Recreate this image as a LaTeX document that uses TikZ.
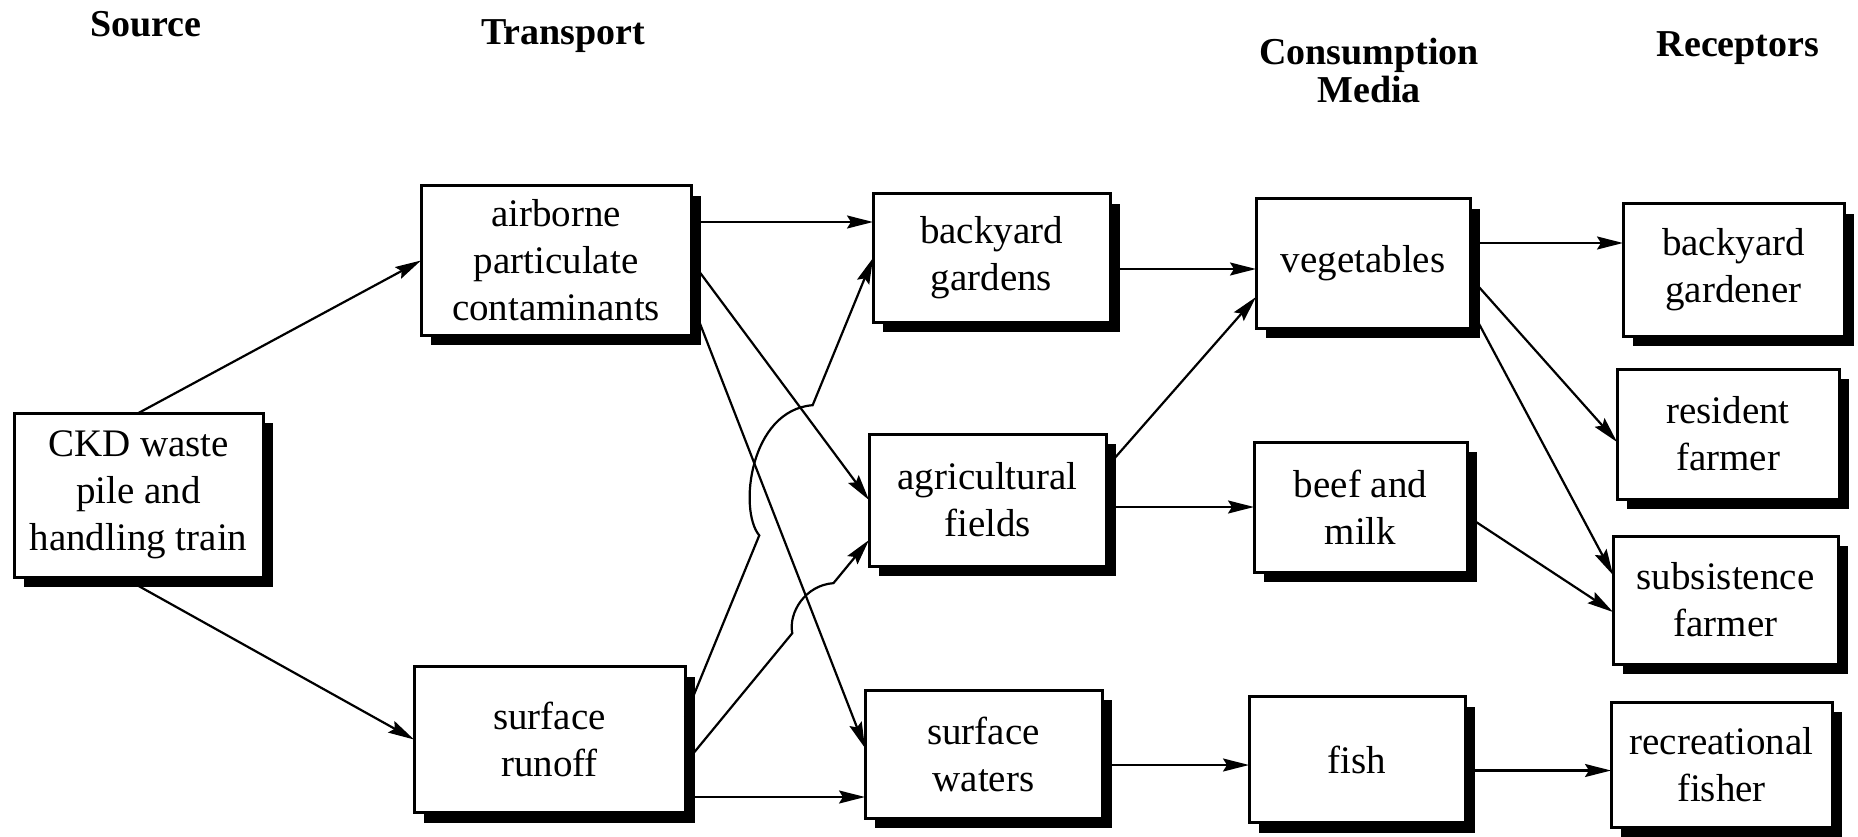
\documentclass[tikz,border=0pt]{standalone}
\usepackage{fontspec}
\setmainfont{Liberation Serif}
\usetikzlibrary{arrows.meta,calc,shadows}
\begin{document}
\begin{tikzpicture}[x=1pt,y=-1pt,
  box/.style={draw, line width=3pt, fill=white, inner sep=0pt, outer sep=0pt, align=center,
    font=\fontsize{39}{47}\selectfont,
    general shadow={fill=black, shadow xshift=10pt, shadow yshift=-10pt}},
  head/.style={font=\fontsize{38}{38}\selectfont\bfseries, inner sep=0pt, align=center},
  arr/.style={line width=2.2pt, -{Stealth[length=26pt,width=13pt,inset=4pt]}},
]
\useasboundingbox (0,0) rectangle (1858,837);

% headings
\node[head, anchor=base] (hsrc) at (146,37) {Source};
\node[head, anchor=base] (htr) at (563,45) {Transport};
\node[head, anchor=north] (hcm) at (1369,38) {Consumption\\Media};
\node[head, anchor=base] (hrec) at (1738,57) {Receptors};

% boxes
\node[box, minimum width=249pt, minimum height=164pt] (ckd) at (138.5,495) {CKD waste\\pile and\\handling train};
\node[box, minimum width=270pt, minimum height=149pt] (air) at (556,260.5) {airborne\\particulate\\contaminants};
\node[box, minimum width=271pt, minimum height=146pt] (run) at (549.5,739.5) {surface\\runoff};
\node[box, minimum width=237pt, minimum height=128pt] (gar) at (991.5,258) {backyard\\gardens};
\node[box, minimum width=237pt, minimum height=132pt] (agr) at (987.5,500) {agricultural\\fields};
\node[box, minimum width=237pt, minimum height=128pt] (wat) at (983.5,754) {surface\\waters};
\node[box, minimum width=214pt, minimum height=129pt] (veg) at (1363,263.5) {vegetables};
\node[box, minimum width=213pt, minimum height=130pt] (beef) at (1360.5,507) {beef and\\milk};
\node[box, minimum width=216pt, minimum height=126pt] (fish) at (1357,759.5) {fish};
\node[box, minimum width=221pt, minimum height=132pt] (gdn) at (1733.5,270) {backyard\\gardener};
\node[box, minimum width=222pt, minimum height=130pt] (res) at (1728,434) {resident\\farmer};
\node[box, minimum width=225pt, minimum height=128pt] (sub) at (1725.5,600) {subsistence\\farmer};
\node[box, minimum width=221pt, minimum height=125pt] (rec) at (1721.5,764.5) {recreational\\fisher};

% source -> transport
\draw[arr] (ckd.north) -- (air.west);
\coordinate (s2) at ($(ckd.south)+(-16,0)$);
\draw[arr] (s2) -- (run.west);

% airborne
\coordinate (a3) at ($(air.east)+(0,-38.5)$);
\draw[arr] (a3) -- (a3 -| gar.west);
\draw[arr] (air.east) -- (agr.west);
\coordinate (a5s) at ($(air.east)+(0,40)$);
\coordinate (a5e) at ($(wat.west)+(0,-6)$);
\draw[arr] (a5s) -- (a5e);

% runoff -> gardens (with jump)
\coordinate (c6s) at ($(run.east)+(0,-23)$);
\coordinate (p1) at ($(c6s)!0.395!(gar.west)$);
\coordinate (p2) at ($(c6s)!0.679!(gar.west)$);
\coordinate (p1c) at ($(p1)+(-21,-25)$);
\coordinate (p2c) at ($(p2)+(-63,5)$);
\draw[arr] (c6s) -- (p1) .. controls (p1c) and (p2c) .. (p2) -- (gar.west);

% runoff -> agricultural (with jump)
\coordinate (c7s) at ($(run.east)+(0,24)$);
\coordinate (c7e) at ($(agr.west)+(0,40)$);
\coordinate (q1) at ($(c7s)!0.583!(c7e)$);
\coordinate (q2) at ($(c7s)!0.807!(c7e)$);
\coordinate (q1c) at ($(q1)+(-4,-21)$);
\coordinate (q2c) at ($(q2)+(-28,2)$);
\draw[arr] (c7s) -- (q1) .. controls (q1c) and (q2c) .. (q2) -- (c7e);

% runoff -> waters
\coordinate (a8) at ($(run.east)+(0,57.5)$);
\draw[arr] (a8) -- (a8 -| wat.west);

% media -> consumption
\coordinate (b1) at ($(gar.east)+(0,11)$);
\draw[arr] (b1) -- (b1 -| veg.west);
\coordinate (b2s) at ($(agr.east)+(0,-32)$);
\coordinate (b2e) at ($(veg.west)+(0,33.5)$);
\draw[arr] (b2s) -- (b2e);
\coordinate (b3) at ($(agr.east)+(0,7)$);
\draw[arr] (b3) -- (b3 -| beef.west);
\coordinate (b4) at ($(wat.east)+(0,11)$);
\draw[arr] (b4) -- (b4 -| fish.west);

% consumption -> receptors
\coordinate (r1) at ($(veg.east)+(0,-20.5)$);
\draw[arr] (r1) -- (r1 -| gdn.west);
\coordinate (r2s) at ($(veg.east)+(0,13.5)$);
\coordinate (r2e) at ($(res.west)+(0,8)$);
\draw[arr] (r2s) -- (r2e);
\coordinate (r3s) at ($(veg.east)+(0,43.5)$);
\coordinate (r3e) at ($(sub.west)+(0,-25)$);
\draw[arr] (r3s) -- (r3e);
\coordinate (r4s) at ($(beef.east)+(0,9)$);
\coordinate (r4e) at ($(sub.west)+(0,12)$);
\draw[arr] (r4s) -- (r4e);
\coordinate (r5) at ($(fish.east)+(0,11)$);
\draw[arr] (r5) -- (r5 -| rec.west);
\end{tikzpicture}
\end{document}
